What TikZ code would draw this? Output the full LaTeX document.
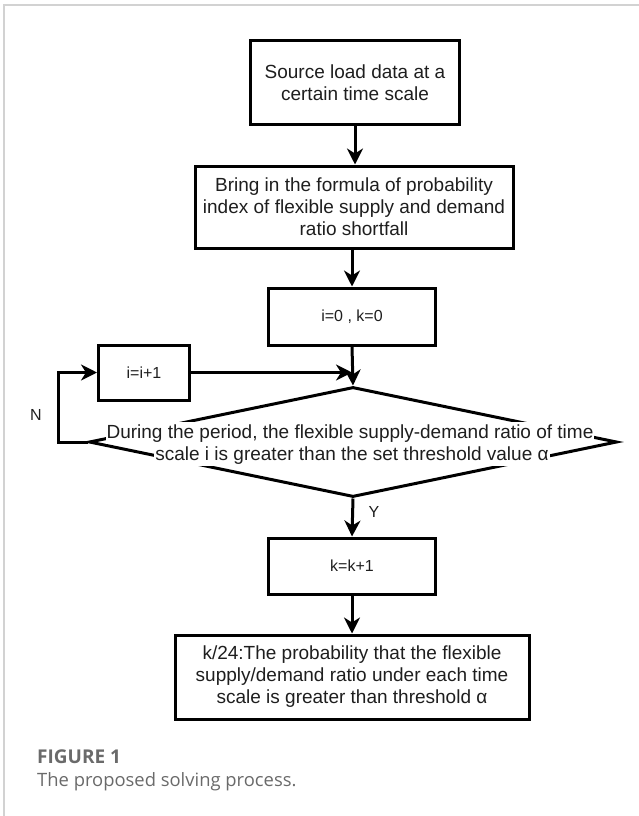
\documentclass[tikz,border=0pt]{standalone}
\usepackage{fontspec}
\setmainfont{Liberation Sans}
\newfontfamily\capfont{Open Sans}
\usepackage{tikz}
\usetikzlibrary{shapes.geometric, arrows.meta}
\definecolor{FigFrame}{HTML}{D2D2D2}
\definecolor{CapGray}{HTML}{6A6A6A}
\definecolor{InkDark}{HTML}{1E1E1E}

\begin{document}
\begin{tikzpicture}[x=1pt, y=-1pt,
    procbox/.style={draw=black, text=InkDark, line width=3pt, align=center, inner sep=0pt,
                    font=\fontsize{19}{22}\selectfont},
    smallbox/.style={procbox, font=\fontsize{16}{19}\selectfont},
    linetxt/.style={fill=white, text=InkDark, inner xsep=1pt, inner ysep=1pt, text height=15pt,
                    text depth=5pt, font=\fontsize{19}{22}\selectfont},
    flow/.style={line width=3pt, -{Stealth[length=16pt, width=16pt, inset=5pt]}}]
      \useasboundingbox (0,0) rectangle (639,816);
      %% Card frame
      \draw[FigFrame, line width=1.5pt] (4,816) -- (4,5) -- (639,5);
      %% Process boxes
      \node[procbox, minimum width=209pt, minimum height=83pt] (source) at (355,82.5)
           {Source load data at a\\certain time scale};
      \node[procbox, minimum width=318pt, minimum height=82pt] (formula) at (354,207)
           {Bring in the formula of probability\\index of flexible supply and demand\\ratio shortfall};
      \node[smallbox, minimum width=167pt, minimum height=57pt] (init) at (352,316.5) {i=0 , k=0};
      \node[smallbox, minimum width=91pt, minimum height=55pt] (inci) at (144,372.5) {i=i+1};
      %% Decision
      \node[draw, line width=3pt, shape=diamond, minimum width=528pt, minimum height=110pt,
            inner sep=0pt] (check) at (353,442) {};
      \node[linetxt] (checktop) at (350,433)
           {During the period, the flexible supply-demand ratio of time};
      \node[linetxt] (checkbot) at (352,455)
           {scale i is greater than the set threshold value α};
      \node[smallbox, minimum width=167pt, minimum height=56pt] (inck) at (352,566) {k=k+1};
      \node[procbox, minimum width=354pt, minimum height=84pt] (result) at (352,677)
           {k/24:The probability that the flexible\\supply/demand ratio under each time\\scale is greater than threshold α};
      %% Connectors
      \draw[flow] (source.south) -- (source.south |- formula.north);
      \draw[flow] (formula.south) -- (formula.south -| init.north) -- (init.north);
      \coordinate (merge) at (init.south |- inci.east);
      \draw[flow] (init.south) -- (check.north);
      \draw[flow] (inci.east) -- (merge);
      \draw[flow] (check.west) -- ++(-29,0) |- (inci.west);
      \draw[flow] (check.south) -- (inck.north);
      \draw[flow] (inck.south) -- (result.north);
      \node[text=InkDark, font=\fontsize{16}{19}\selectfont] (nlabel) at (36,415) {N};
      \node[text=InkDark, font=\fontsize{16}{19}\selectfont] (ylabel) at (374,512) {Y};
      %% Caption
      \node[anchor=west, inner sep=0pt, text=CapGray, font=\capfont\bfseries\fontsize{19}{22}\selectfont]
           (capnum) at (37,757) {FIGURE 1};
      \node[anchor=west, inner sep=0pt, text=CapGray, font=\capfont\fontsize{18.4}{21}\selectfont]
           (captext) at (37,782) {The proposed solving process.};
\end{tikzpicture}
\end{document}
